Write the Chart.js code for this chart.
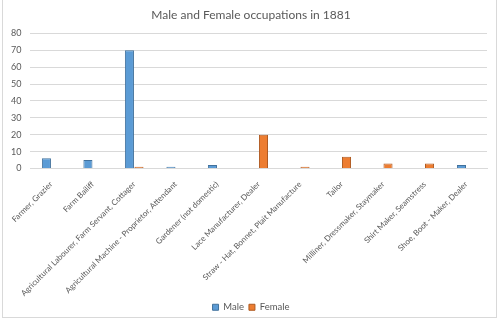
<!DOCTYPE html>
<html>
<head>
<meta charset="utf-8">
<script src="https://cdn.jsdelivr.net/npm/chart.js@4"></script>
<style>
    html, body { margin: 0; padding: 0; background: #ffffff; }
    #wrap { position: relative; width: 500px; height: 322px; }
</style>
</head>
<body>
<div id="wrap"><canvas id="chart"></canvas></div>
<script>
// occupations (categories)
const occupations = [
    'Farmer, Grazier',
    'Farm Bailiff',
    'Agricultural Labourer, Farm Servant, Cottager',
    'Agricultural Machine - Proprietor, Attendant',
    'Gardener (not domestic)',
    'Lace Manufacturer, Dealer',
    'Straw - Hat, Bonnet, Plait Manufacture',
    'Tailor',
    'Milliner, Dressmaker, Staymaker',
    'Shirt Maker, Seamstress',
    'Shoe, Boot - Maker, Dealer'
];

// counts
const maleCounts = [6, 5, 70, 1, 2, 0, 0, 0, 0, 0, 2];
const femaleCounts = [0, 0, 1, 0, 0, 20, 1, 7, 3, 3, 0];

const yTicks = [0, 10, 20, 30, 40, 50, 60, 70, 80];

const maleColor = '#5B9BD5';
const femaleColor = '#ED7D31';
const textColor = '#595959';
const fontFamily = 'Lato, "Open Sans", sans-serif';

// light frame around the whole chart, like the spreadsheet export
const chartFrame = {
    id: 'chartFrame',
    beforeDraw: function(chart) {
        const ctx = chart.ctx;
        ctx.save();
        ctx.fillStyle = '#ffffff';
        ctx.fillRect(0, 0, chart.width, chart.height);
        ctx.strokeStyle = '#d9d9d9';
        ctx.lineWidth = 1;
        ctx.strokeRect(2.5, -1, 494, 318.5);
        ctx.restore();
    }
};

const config = {
    type: 'bar',
    data: {
        labels: occupations,
        datasets: [{
            label: 'Male',
            data: maleCounts,
            backgroundColor: maleColor,
            borderColor: '#41719C',
            borderWidth: 1,
            categoryPercentage: 0.46,
            barPercentage: 0.95
        }, {
            label: 'Female',
            data: femaleCounts,
            backgroundColor: femaleColor,
            borderColor: '#AE5A21',
            borderWidth: 1,
            categoryPercentage: 0.46,
            barPercentage: 0.95
        }]
    },
    options: {
        responsive: false,
        animation: false,
        layout: {
            padding: { left: 2, right: 0, top: 0, bottom: 0 }
        },
        scales: {
            x: {
                grid: { display: false },
                border: { color: '#d9d9d9' },
                afterFit: function(scale) {
                    scale.height = 129; // keep the plot floor where the original has it
                    scale.paddingRight = 13; // gap between plot and right frame
                },
                ticks: {
                    color: textColor,
                    font: { family: fontFamily, size: 8 },
                    minRotation: 45,
                    maxRotation: 45,
                    autoSkip: false,
                    padding: 3
                }
            },
            y: {
                min: 0,
                max: 80,
                afterBuildTicks: function(scale) {
                    scale.ticks = yTicks.map(v => ({ value: v }));
                },
                grid: { color: '#d9d9d9', drawTicks: false },
                border: { display: false },
                ticks: {
                    color: textColor,
                    font: { family: fontFamily, size: 9 },
                    padding: 9
                }
            }
        },
        plugins: {
            title: {
                display: true,
                text: 'Male and Female occupations in 1881',
                color: textColor,
                font: { family: fontFamily, size: 12, weight: 'normal' },
                padding: { top: 8, bottom: 11 }
            },
            legend: {
                position: 'bottom',
                labels: {
                    color: textColor,
                    font: { family: fontFamily, size: 9.5 },
                    boxWidth: 6,
                    boxHeight: 6,
                    padding: 5
                }
            },
            tooltip: { enabled: false }
        }
    },
    plugins: [chartFrame]
};

const canvas = document.getElementById('chart');
canvas.width = 500;
canvas.height = 322;
new Chart(canvas.getContext('2d'), config);
</script>
</body>
</html>
